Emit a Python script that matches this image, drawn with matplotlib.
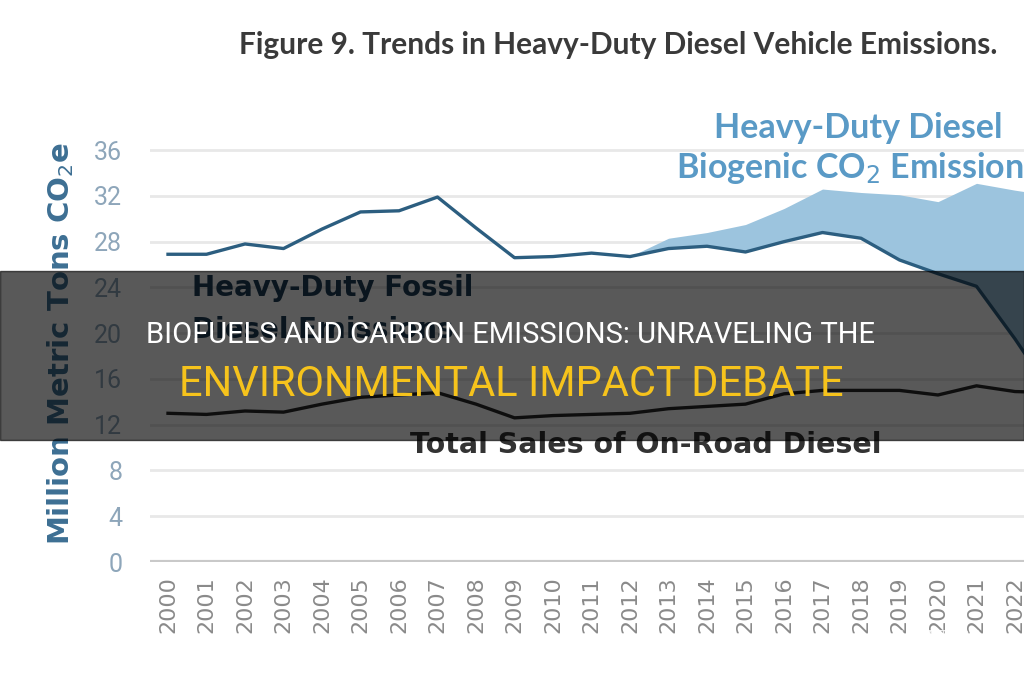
import numpy as np
import matplotlib
matplotlib.use("Agg")
import matplotlib.pyplot as plt
from matplotlib.patches import Rectangle

# Données (millions de tonnes CO2e)
years = list(range(2000, 2024))
fossil = [26.9, 26.9, 27.8, 27.4, 29.1, 30.6, 30.7, 31.9, 29.2, 26.6, 26.7, 27.0,
          26.7, 27.4, 27.6, 27.1, 28.0, 28.8, 28.3, 26.4, 25.2, 24.1, 19.5, 14.5]
biogenic_top = [26.9, 26.9, 27.8, 27.4, 29.1, 30.6, 30.7, 31.9, 29.2, 26.6, 26.7, 27.0,
                26.7, 28.3, 28.8, 29.5, 30.9, 32.6, 32.3, 32.1, 31.5, 33.1, 32.5, 32.0]
total_sales = [13.0, 12.9, 13.2, 13.1, 13.8, 14.4, 14.6, 14.8, 13.8, 12.6, 12.8, 12.9,
               13.0, 13.4, 13.6, 13.8, 14.7, 15.0, 15.0, 15.0, 14.6, 15.4, 14.9, 14.8]
yticks = [0, 4, 8, 12, 16, 20, 24, 28, 32, 36]

fig = plt.figure(figsize=(10.24, 6.8), dpi=100)
ax = fig.add_axes([150 / 1024, 118 / 680, 874 / 1024, 37 * 11.44 / 680])

# Grille horizontale
for v in yticks:
    ax.axhline(v, color="#c9c9c9" if v == 0 else "#e8e8e8",
               lw=3 if v == 0 else 2, zorder=0)

ax.fill_between(years, fossil, biogenic_top, color="#9cc4de", lw=0, zorder=1)
ax.plot(years, fossil, color="#2c5e80", lw=2.4, zorder=3)
ax.plot(years, total_sales, color="#2a2a2a", lw=2.4, zorder=3)

for s in ax.spines.values():
    s.set_visible(False)
ax.tick_params(length=0)
ax.set_yticks(yticks)
ax.set_yticklabels([str(v) for v in yticks], color="#8ea6ba", fontsize=18,
                   family="Roboto")
ax.tick_params(axis="y", pad=20)
ax.set_xticks(years)
ax.set_xticklabels([str(y) for y in years], rotation=90, color="#8a8a8a",
                   fontsize=16, family="DejaVu Sans")
ax.tick_params(axis="x", pad=10)

# limites fixées après les ticks
x0 = 2000 - 18 / 38.5
ax.set_xlim(x0, x0 + 874 / 38.5)
ax.set_ylim(0, 37)

ax.set_ylabel("Million Metric Tons CO$_2$e", color="#3d6f93", fontsize=21,
              fontweight="bold", family="DejaVu Sans")
ax.yaxis.set_label_coords(-74 / 874, 0.515)

# Annotations
ax.text(2017.92, 37.9, "Heavy-Duty Diesel", ha="center", va="center",
        color="#5a9ac6", fontsize=24.5, fontweight="bold", family="Lato")
ax.text(2017.92, 34.4, "Biogenic CO$_2$ Emissions", ha="center", va="center",
        color="#5a9ac6", fontsize=24.5, fontweight="bold", family="Lato")
ax.text(2000.62, 23.95, "Heavy-Duty Fossil", ha="left", va="center",
        color="#1f3d57", fontsize=20, fontweight="bold", family="DejaVu Sans")
ax.text(2000.62, 20.3, "Diesel Emissions", ha="left", va="center",
        color="#1f3d57", fontsize=20, fontweight="bold", family="DejaVu Sans")
ax.text(2012.42, 10.2, "Total Sales of On-Road Diesel", ha="center", va="center",
        color="#333333", fontsize=20.5, fontweight="bold", family="DejaVu Sans")

fig.text(618 / 1024, 1 - 45 / 680, "Figure 9. Trends in Heavy-Duty Diesel Vehicle Emissions.",
         ha="center", va="center", color="#3a3a3a", fontsize=21.5, fontweight="bold",
         family="Lato")

# Bandeau sombre avec le titre
fig.patches.append(Rectangle((0, 240 / 680), 1, 169 / 680, transform=fig.transFigure,
                             color="black", alpha=0.65, zorder=10))
fig.text(510 / 1024, 1 - 335 / 680, "BIOFUELS AND CARBON EMISSIONS: UNRAVELING THE",
         ha="center", va="center", color="white", fontsize=21,
         family="Roboto", zorder=11)
fig.text(511 / 1024, 1 - 384 / 680, "ENVIRONMENTAL IMPACT DEBATE",
         ha="center", va="center", color="#f6c31c", fontsize=30,
         family="Roboto", zorder=11)
fig.text(937 / 1024, 1 - 637 / 680, "SHUNTUBE", ha="center", va="center",
         color="white", alpha=0.85, fontsize=11, zorder=11)

fig.savefig("out.png", dpi=100)
